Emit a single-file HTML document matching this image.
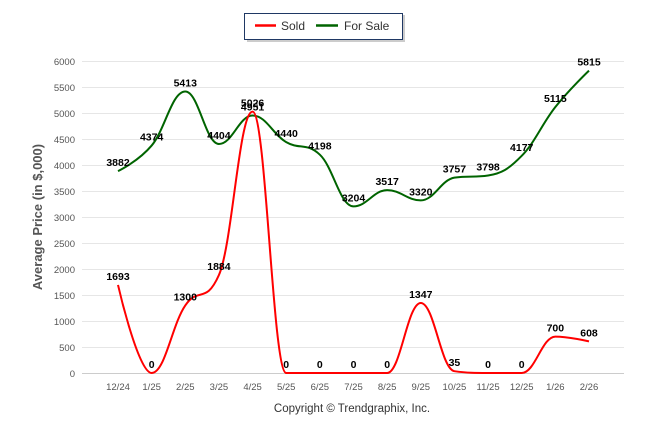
<!DOCTYPE html>
<html><head><meta charset="utf-8"><style>
body{margin:0;background:#fff;font-family:"Liberation Sans",Arial,sans-serif}
svg text{font-family:"Liberation Sans",Arial,sans-serif}
</style></head><body>
<svg id="c" width="646" height="434" xmlns="http://www.w3.org/2000/svg">
<g>
<rect x="247" y="15" width="158" height="27" fill="#999" opacity="0.5"/>
<rect x="244.5" y="13.5" width="158" height="26" fill="#fff" stroke="#1f3864" stroke-width="1"/>
<line x1="255" y1="25.5" x2="276" y2="25.5" stroke="#ff0000" stroke-width="2.5"/>
<text x="281" y="30" font-size="12" fill="#333">Sold</text>
<line x1="316" y1="25.5" x2="338" y2="25.5" stroke="#006400" stroke-width="2.5"/>
<text x="344" y="30" font-size="12" fill="#333">For Sale</text>
</g>
<text transform="translate(42,217) rotate(-90)" text-anchor="middle" font-size="13" font-weight="bold" fill="#555">Average Price (in $,000)</text>
<text x="352" y="412" text-anchor="middle" font-size="11.5" fill="#333">Copyright © Trendgraphix, Inc.</text>
<g id="grid"></g><g id="series"></g><g id="labels"></g>
</svg>
<script>
const categories=["12/24","1/25","2/25","3/25","4/25","5/25","6/25","7/25","8/25","9/25","10/25","11/25","12/25","1/26","2/26"];
const sold=[1693,0,1300,1884,5026,0,0,0,0,1347,35,0,0,700,608];
const forSale=[3882,4374,5413,4404,4951,4440,4198,3204,3517,3320,3757,3798,4177,5115,5815];
const yTicks=[0,500,1000,1500,2000,2500,3000,3500,4000,4500,5000,5500,6000];
const NS="http://www.w3.org/2000/svg";
const X0=118,X1=589,Y0=373,Y1=61;
const xs=i=>X0+(X1-X0)*i/(categories.length-1);
const ys=v=>Y0-(Y0-Y1)*v/6000;
function mk(t,a,p){const e=document.createElementNS(NS,t);for(const k in a)e.setAttribute(k,a[k]);p.appendChild(e);return e;}
const grid=document.getElementById('grid'),ser=document.getElementById('series'),lab=document.getElementById('labels');
yTicks.forEach(v=>{
 const l=mk('line',{x1:82,x2:624,y1:ys(v)+0.5,y2:ys(v)+0.5,stroke:'#e6e6e6'},grid);
 
 
 const t=mk('text',{x:75,y:ys(v)+4,'text-anchor':'end','font-size':9.5,fill:'#555'},grid);t.textContent=v;
 
 
});
mk('line',{x1:82,x2:624,y1:373.5,y2:373.5,stroke:'#ccc'},grid);
categories.forEach((c,i)=>{
 const t=mk('text',{x:xs(i),y:390,'text-anchor':'middle','font-size':9.5,fill:'#555'},grid);t.textContent=c;
 
 
});
function spline(vals){
 const P=vals.map((v,i)=>[xs(i),ys(v)]);let d='M'+P[0][0]+','+P[0][1];
 const s=1.5,den=s+1;
 const cp=i=>{ if(i===0||i===P.length-1)return null;
  const [x,y]=P[i],[lx,ly]=P[i-1],[nx,ny]=P[i+1];
  let lcx=(s*x+lx)/den,lcy=(s*y+ly)/den,rcx=(s*x+nx)/den,rcy=(s*y+ny)/den;
  let corr=0;if(rcx!==lcx)corr=((rcy-lcy)*(rcx-x))/(rcx-lcx)+y-rcy;
  lcy+=corr;rcy+=corr;
  if(lcy>ly&&lcy>y){lcy=Math.max(ly,y);rcy=2*y-lcy;}else if(lcy<ly&&lcy<y){lcy=Math.min(ly,y);rcy=2*y-lcy;}
  if(rcy>ny&&rcy>y){rcy=Math.max(ny,y);lcy=2*y-rcy;}else if(rcy<ny&&rcy<y){rcy=Math.min(ny,y);lcy=2*y-rcy;}
  return {l:[lcx,lcy],r:[rcx,rcy]};};
 const C=P.map((p,i)=>cp(i));
 for(let i=1;i<P.length;i++){
  const a=C[i-1]?C[i-1].r:P[i-1],b=C[i]?C[i].l:P[i];
  d+=` C${a[0]},${a[1]} ${b[0]},${b[1]} ${P[i][0]},${P[i][1]}`;}
 return d;}
const g=mk('path',{d:spline(forSale),fill:'none',stroke:'#006400','stroke-width':2},ser);


const r=mk('path',{d:spline(sold),fill:'none',stroke:'#ff0000','stroke-width':2},ser);


function labels(vals,name){vals.forEach((v,i)=>{
 const t=mk('text',{x:xs(i),y:ys(v)-5,'text-anchor':'middle','font-size':10.5,'font-weight':'bold',fill:'#000'},lab);t.textContent=v;
 
 });}
labels(forSale,'for-sale');labels(sold,'sold');
</script>
</body></html>
